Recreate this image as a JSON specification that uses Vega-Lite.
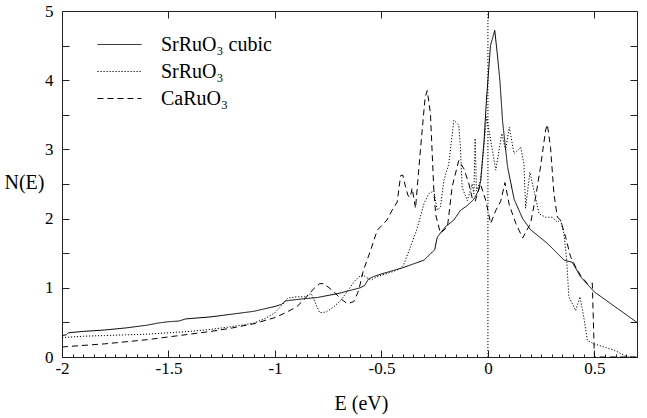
{
  "$schema": "https://vega.github.io/schema/vega-lite/v6.json",
  "width": 575,
  "height": 346,
  "autosize": {"type": "none"},
  "padding": {"left": 62, "top": 11, "right": 10, "bottom": 61},
  "background": "white",
  "config": {
    "view": {"stroke": "#222", "strokeWidth": 1},
    "font": "Liberation Serif, Times New Roman, serif",
    "text": {"font": "Liberation Serif, Times New Roman, serif"},
    "legend": {"labelFont": "Liberation Serif, Times New Roman, serif"},
    "axis": {"labelFont": "Liberation Serif, Times New Roman, serif", "titleFont": "Liberation Serif, Times New Roman, serif", "labelColor": "black", "titleColor": "black", "tickColor": "#222", "domain": false, "grid": false, "titleFontWeight": "normal"}
  },
  "datasets": {
    "dos": [
      {"s": "SrRuO₃ cubic", "E": -2.0, "N": 0.31},
      {"s": "SrRuO₃ cubic", "E": -1.98, "N": 0.32},
      {"s": "SrRuO₃ cubic", "E": -1.97, "N": 0.35},
      {"s": "SrRuO₃ cubic", "E": -1.9, "N": 0.37},
      {"s": "SrRuO₃ cubic", "E": -1.8, "N": 0.39},
      {"s": "SrRuO₃ cubic", "E": -1.7, "N": 0.42},
      {"s": "SrRuO₃ cubic", "E": -1.6, "N": 0.46},
      {"s": "SrRuO₃ cubic", "E": -1.55, "N": 0.49},
      {"s": "SrRuO₃ cubic", "E": -1.5, "N": 0.51},
      {"s": "SrRuO₃ cubic", "E": -1.45, "N": 0.52},
      {"s": "SrRuO₃ cubic", "E": -1.42, "N": 0.55},
      {"s": "SrRuO₃ cubic", "E": -1.3, "N": 0.58},
      {"s": "SrRuO₃ cubic", "E": -1.2, "N": 0.62},
      {"s": "SrRuO₃ cubic", "E": -1.1, "N": 0.66},
      {"s": "SrRuO₃ cubic", "E": -1.0, "N": 0.73},
      {"s": "SrRuO₃ cubic", "E": -0.97, "N": 0.76},
      {"s": "SrRuO₃ cubic", "E": -0.95, "N": 0.81},
      {"s": "SrRuO₃ cubic", "E": -0.9, "N": 0.83},
      {"s": "SrRuO₃ cubic", "E": -0.8, "N": 0.86},
      {"s": "SrRuO₃ cubic", "E": -0.7, "N": 0.92},
      {"s": "SrRuO₃ cubic", "E": -0.6, "N": 1.0},
      {"s": "SrRuO₃ cubic", "E": -0.58, "N": 1.03},
      {"s": "SrRuO₃ cubic", "E": -0.56, "N": 1.13},
      {"s": "SrRuO₃ cubic", "E": -0.53, "N": 1.17},
      {"s": "SrRuO₃ cubic", "E": -0.5, "N": 1.2},
      {"s": "SrRuO₃ cubic", "E": -0.4, "N": 1.29},
      {"s": "SrRuO₃ cubic", "E": -0.3, "N": 1.4},
      {"s": "SrRuO₃ cubic", "E": -0.27, "N": 1.49},
      {"s": "SrRuO₃ cubic", "E": -0.25, "N": 1.55},
      {"s": "SrRuO₃ cubic", "E": -0.238, "N": 1.73},
      {"s": "SrRuO₃ cubic", "E": -0.223, "N": 1.79},
      {"s": "SrRuO₃ cubic", "E": -0.2, "N": 1.88},
      {"s": "SrRuO₃ cubic", "E": -0.16, "N": 1.98},
      {"s": "SrRuO₃ cubic", "E": -0.129, "N": 2.12},
      {"s": "SrRuO₃ cubic", "E": -0.1, "N": 2.18},
      {"s": "SrRuO₃ cubic", "E": -0.066, "N": 2.28},
      {"s": "SrRuO₃ cubic", "E": -0.045, "N": 2.4},
      {"s": "SrRuO₃ cubic", "E": -0.034, "N": 2.55},
      {"s": "SrRuO₃ cubic", "E": -0.018, "N": 3.13},
      {"s": "SrRuO₃ cubic", "E": -0.007, "N": 3.71},
      {"s": "SrRuO₃ cubic", "E": 0.012, "N": 4.5},
      {"s": "SrRuO₃ cubic", "E": 0.032, "N": 4.72},
      {"s": "SrRuO₃ cubic", "E": 0.045, "N": 4.35},
      {"s": "SrRuO₃ cubic", "E": 0.056, "N": 4.0},
      {"s": "SrRuO₃ cubic", "E": 0.069, "N": 3.4},
      {"s": "SrRuO₃ cubic", "E": 0.092, "N": 2.75},
      {"s": "SrRuO₃ cubic", "E": 0.123, "N": 2.28},
      {"s": "SrRuO₃ cubic", "E": 0.163, "N": 2.0},
      {"s": "SrRuO₃ cubic", "E": 0.2, "N": 1.84},
      {"s": "SrRuO₃ cubic", "E": 0.28, "N": 1.64},
      {"s": "SrRuO₃ cubic", "E": 0.357, "N": 1.4},
      {"s": "SrRuO₃ cubic", "E": 0.396, "N": 1.37},
      {"s": "SrRuO₃ cubic", "E": 0.435, "N": 1.16},
      {"s": "SrRuO₃ cubic", "E": 0.5, "N": 0.94},
      {"s": "SrRuO₃ cubic", "E": 0.6, "N": 0.72},
      {"s": "SrRuO₃ cubic", "E": 0.7, "N": 0.5},

      {"s": "SrRuO₃", "E": -2.0, "N": 0.28},
      {"s": "SrRuO₃", "E": -1.9, "N": 0.3},
      {"s": "SrRuO₃", "E": -1.8, "N": 0.31},
      {"s": "SrRuO₃", "E": -1.7, "N": 0.32},
      {"s": "SrRuO₃", "E": -1.6, "N": 0.33},
      {"s": "SrRuO₃", "E": -1.5, "N": 0.35},
      {"s": "SrRuO₃", "E": -1.4, "N": 0.37},
      {"s": "SrRuO₃", "E": -1.3, "N": 0.4},
      {"s": "SrRuO₃", "E": -1.2, "N": 0.44},
      {"s": "SrRuO₃", "E": -1.1, "N": 0.49},
      {"s": "SrRuO₃", "E": -1.05, "N": 0.55},
      {"s": "SrRuO₃", "E": -1.0, "N": 0.64},
      {"s": "SrRuO₃", "E": -0.97, "N": 0.74},
      {"s": "SrRuO₃", "E": -0.94, "N": 0.85},
      {"s": "SrRuO₃", "E": -0.9, "N": 0.87},
      {"s": "SrRuO₃", "E": -0.86, "N": 0.87},
      {"s": "SrRuO₃", "E": -0.83, "N": 0.92},
      {"s": "SrRuO₃", "E": -0.81, "N": 0.78},
      {"s": "SrRuO₃", "E": -0.79, "N": 0.64},
      {"s": "SrRuO₃", "E": -0.76, "N": 0.65},
      {"s": "SrRuO₃", "E": -0.73, "N": 0.71},
      {"s": "SrRuO₃", "E": -0.69, "N": 0.82},
      {"s": "SrRuO₃", "E": -0.66, "N": 0.95},
      {"s": "SrRuO₃", "E": -0.62, "N": 1.12},
      {"s": "SrRuO₃", "E": -0.6, "N": 1.17},
      {"s": "SrRuO₃", "E": -0.585, "N": 1.18},
      {"s": "SrRuO₃", "E": -0.55, "N": 1.11},
      {"s": "SrRuO₃", "E": -0.52, "N": 1.16},
      {"s": "SrRuO₃", "E": -0.48, "N": 1.2},
      {"s": "SrRuO₃", "E": -0.44, "N": 1.24},
      {"s": "SrRuO₃", "E": -0.41, "N": 1.28},
      {"s": "SrRuO₃", "E": -0.395, "N": 1.34},
      {"s": "SrRuO₃", "E": -0.364, "N": 1.59},
      {"s": "SrRuO₃", "E": -0.333, "N": 1.85},
      {"s": "SrRuO₃", "E": -0.3, "N": 2.22},
      {"s": "SrRuO₃", "E": -0.278, "N": 2.36},
      {"s": "SrRuO₃", "E": -0.254, "N": 2.4},
      {"s": "SrRuO₃", "E": -0.238, "N": 2.12},
      {"s": "SrRuO₃", "E": -0.223, "N": 2.17},
      {"s": "SrRuO₃", "E": -0.207, "N": 2.55},
      {"s": "SrRuO₃", "E": -0.184, "N": 2.79},
      {"s": "SrRuO₃", "E": -0.16, "N": 3.42},
      {"s": "SrRuO₃", "E": -0.137, "N": 3.35},
      {"s": "SrRuO₃", "E": -0.129, "N": 3.03},
      {"s": "SrRuO₃", "E": -0.121, "N": 2.45},
      {"s": "SrRuO₃", "E": -0.097, "N": 2.26},
      {"s": "SrRuO₃", "E": -0.082, "N": 2.41},
      {"s": "SrRuO₃", "E": -0.074, "N": 2.5},
      {"s": "SrRuO₃", "E": -0.066, "N": 2.36},
      {"s": "SrRuO₃", "E": -0.06, "N": 3.16},
      {"s": "SrRuO₃", "E": -0.054, "N": 2.4},
      {"s": "SrRuO₃", "E": -0.034, "N": 2.55},
      {"s": "SrRuO₃", "E": -0.006, "N": 3.47},
      {"s": "SrRuO₃", "E": 0.037, "N": 2.7},
      {"s": "SrRuO₃", "E": 0.065, "N": 3.23},
      {"s": "SrRuO₃", "E": 0.083, "N": 2.99},
      {"s": "SrRuO₃", "E": 0.1, "N": 3.32},
      {"s": "SrRuO₃", "E": 0.123, "N": 2.94},
      {"s": "SrRuO₃", "E": 0.154, "N": 3.03},
      {"s": "SrRuO₃", "E": 0.169, "N": 2.79},
      {"s": "SrRuO₃", "E": 0.177, "N": 2.15},
      {"s": "SrRuO₃", "E": 0.197, "N": 2.67},
      {"s": "SrRuO₃", "E": 0.216, "N": 2.41},
      {"s": "SrRuO₃", "E": 0.24, "N": 2.07},
      {"s": "SrRuO₃", "E": 0.271, "N": 2.02},
      {"s": "SrRuO₃", "E": 0.302, "N": 2.02},
      {"s": "SrRuO₃", "E": 0.326, "N": 1.95},
      {"s": "SrRuO₃", "E": 0.341, "N": 1.98},
      {"s": "SrRuO₃", "E": 0.357, "N": 1.78},
      {"s": "SrRuO₃", "E": 0.37, "N": 1.4},
      {"s": "SrRuO₃", "E": 0.38, "N": 0.87},
      {"s": "SrRuO₃", "E": 0.412, "N": 0.67},
      {"s": "SrRuO₃", "E": 0.432, "N": 0.87},
      {"s": "SrRuO₃", "E": 0.45, "N": 0.58},
      {"s": "SrRuO₃", "E": 0.467, "N": 0.24},
      {"s": "SrRuO₃", "E": 0.498, "N": 0.19},
      {"s": "SrRuO₃", "E": 0.55, "N": 0.14},
      {"s": "SrRuO₃", "E": 0.592, "N": 0.1},
      {"s": "SrRuO₃", "E": 0.63, "N": 0.04},
      {"s": "SrRuO₃", "E": 0.655, "N": 0.0},
      {"s": "SrRuO₃", "E": 0.7, "N": 0.0},

      {"s": "CaRuO₃", "E": -2.0, "N": 0.145},
      {"s": "CaRuO₃", "E": -1.8, "N": 0.19},
      {"s": "CaRuO₃", "E": -1.6, "N": 0.25},
      {"s": "CaRuO₃", "E": -1.5, "N": 0.29},
      {"s": "CaRuO₃", "E": -1.4, "N": 0.33},
      {"s": "CaRuO₃", "E": -1.3, "N": 0.37},
      {"s": "CaRuO₃", "E": -1.2, "N": 0.42},
      {"s": "CaRuO₃", "E": -1.1, "N": 0.48},
      {"s": "CaRuO₃", "E": -1.0, "N": 0.57},
      {"s": "CaRuO₃", "E": -0.95, "N": 0.64},
      {"s": "CaRuO₃", "E": -0.9, "N": 0.72},
      {"s": "CaRuO₃", "E": -0.86, "N": 0.84},
      {"s": "CaRuO₃", "E": -0.82, "N": 0.98},
      {"s": "CaRuO₃", "E": -0.79, "N": 1.06},
      {"s": "CaRuO₃", "E": -0.77, "N": 1.06},
      {"s": "CaRuO₃", "E": -0.73, "N": 0.96},
      {"s": "CaRuO₃", "E": -0.69, "N": 0.84},
      {"s": "CaRuO₃", "E": -0.66, "N": 0.77},
      {"s": "CaRuO₃", "E": -0.63, "N": 0.8},
      {"s": "CaRuO₃", "E": -0.607, "N": 0.96},
      {"s": "CaRuO₃", "E": -0.585, "N": 1.25},
      {"s": "CaRuO₃", "E": -0.55, "N": 1.55},
      {"s": "CaRuO₃", "E": -0.52, "N": 1.83},
      {"s": "CaRuO₃", "E": -0.474, "N": 1.98},
      {"s": "CaRuO₃", "E": -0.45, "N": 2.12},
      {"s": "CaRuO₃", "E": -0.426, "N": 2.24},
      {"s": "CaRuO₃", "E": -0.41, "N": 2.62},
      {"s": "CaRuO₃", "E": -0.4, "N": 2.63},
      {"s": "CaRuO₃", "E": -0.387, "N": 2.46},
      {"s": "CaRuO₃", "E": -0.375, "N": 2.33},
      {"s": "CaRuO₃", "E": -0.364, "N": 2.31},
      {"s": "CaRuO₃", "E": -0.356, "N": 2.44},
      {"s": "CaRuO₃", "E": -0.34, "N": 2.15},
      {"s": "CaRuO₃", "E": -0.317, "N": 2.99},
      {"s": "CaRuO₃", "E": -0.295, "N": 3.75},
      {"s": "CaRuO₃", "E": -0.285, "N": 3.85},
      {"s": "CaRuO₃", "E": -0.27, "N": 3.52},
      {"s": "CaRuO₃", "E": -0.254, "N": 2.41},
      {"s": "CaRuO₃", "E": -0.245, "N": 2.05},
      {"s": "CaRuO₃", "E": -0.223, "N": 1.79},
      {"s": "CaRuO₃", "E": -0.19, "N": 1.88},
      {"s": "CaRuO₃", "E": -0.168, "N": 2.46},
      {"s": "CaRuO₃", "E": -0.137, "N": 2.84},
      {"s": "CaRuO₃", "E": -0.113, "N": 2.72},
      {"s": "CaRuO₃", "E": -0.09, "N": 2.51},
      {"s": "CaRuO₃", "E": -0.074, "N": 2.3},
      {"s": "CaRuO₃", "E": -0.06, "N": 2.25},
      {"s": "CaRuO₃", "E": -0.035, "N": 2.5},
      {"s": "CaRuO₃", "E": -0.01, "N": 2.26},
      {"s": "CaRuO₃", "E": 0.013, "N": 1.93},
      {"s": "CaRuO₃", "E": 0.037, "N": 2.12},
      {"s": "CaRuO₃", "E": 0.06, "N": 2.25},
      {"s": "CaRuO₃", "E": 0.08, "N": 2.52},
      {"s": "CaRuO₃", "E": 0.1, "N": 2.2},
      {"s": "CaRuO₃", "E": 0.131, "N": 1.93},
      {"s": "CaRuO₃", "E": 0.163, "N": 1.72},
      {"s": "CaRuO₃", "E": 0.2, "N": 1.93},
      {"s": "CaRuO₃", "E": 0.224, "N": 2.31},
      {"s": "CaRuO₃", "E": 0.247, "N": 2.75},
      {"s": "CaRuO₃", "E": 0.271, "N": 3.28},
      {"s": "CaRuO₃", "E": 0.279, "N": 3.36},
      {"s": "CaRuO₃", "E": 0.294, "N": 3.03},
      {"s": "CaRuO₃", "E": 0.31, "N": 2.36},
      {"s": "CaRuO₃", "E": 0.326, "N": 2.02},
      {"s": "CaRuO₃", "E": 0.341, "N": 1.98},
      {"s": "CaRuO₃", "E": 0.365, "N": 1.73},
      {"s": "CaRuO₃", "E": 0.388, "N": 1.45},
      {"s": "CaRuO₃", "E": 0.412, "N": 1.3},
      {"s": "CaRuO₃", "E": 0.435, "N": 1.18},
      {"s": "CaRuO₃", "E": 0.467, "N": 1.06},
      {"s": "CaRuO₃", "E": 0.49, "N": 1.07},
      {"s": "CaRuO₃", "E": 0.5, "N": 0.0},
      {"s": "CaRuO₃", "E": 0.7, "N": 0.0}
    ],
    "fermi": [{"E": 0}]
  },
  "resolve": {"axis": {"x": "independent", "y": "independent"}},
  "layer": [
    {
      "data": {"name": "dos"},
      "mark": {"type": "line", "color": "black", "strokeWidth": 1, "interpolate": "linear"},
      "encoding": {
        "x": {
          "field": "E", "type": "quantitative",
          "scale": {"domain": [-2, 0.7], "nice": false, "zero": false},
          "axis": {
            "orient": "bottom",
            "title": "E (eV)",
            "titleFontSize": 20,
            "titleX": 299,
            "titleY": 52,
            "titleAnchor": "middle",
            "titleAlign": "center",
            "titleBaseline": "alphabetic",
            "values": [-2, -1.95, -1.9, -1.85, -1.8, -1.75, -1.7, -1.65, -1.6, -1.55, -1.5, -1.45, -1.4, -1.35, -1.3, -1.25, -1.2, -1.15, -1.1, -1.05, -1, -0.95, -0.9, -0.85, -0.8, -0.75, -0.7, -0.65, -0.6, -0.55, -0.5, -0.45, -0.4, -0.35, -0.3, -0.25, -0.2, -0.15, -0.1, -0.05, 0, 0.05, 0.1, 0.15, 0.2, 0.25, 0.3, 0.35, 0.4, 0.45, 0.5, 0.55, 0.6, 0.65, 0.7],
            "labelExpr": "abs(datum.value*2 - round(datum.value*2)) < 0.001 && datum.value < 0.69 ? '' + datum.value : ''",
            "labelFontSize": 17,
            "labelPadding": 10,
            "labelFlush": false,
            "labelOverlap": false,
            "tickSize": {"condition": {"test": "abs(datum.value*2 - round(datum.value*2)) < 0.001", "value": -7}, "value": -3},
            "tickColor": "#222"
          }
        },
        "y": {
          "field": "N", "type": "quantitative",
          "scale": {"domain": [0, 5], "nice": false},
          "axis": {
            "orient": "left",
            "title": "N(E)",
            "titleFontSize": 20,
            "titleAngle": 0,
            "titleX": -38,
            "titleY": 171,
            "titleAlign": "center",
            "titleBaseline": "middle",
            "values": [0, 0.5, 1, 1.5, 2, 2.5, 3, 3.5, 4, 4.5, 5],
            "labelExpr": "datum.value % 1 == 0 ? '' + datum.value : ''",
            "labelFontSize": 17,
            "labelPadding": 16,
            "labelFlush": false,
            "labelOverlap": false,
            "tickSize": -7
          }
        },
        "strokeDash": {
          "field": "s", "type": "nominal",
          "scale": {"domain": ["SrRuO₃ cubic", "SrRuO₃", "CaRuO₃"], "range": [[1, 0], [1.2, 1.8], [6, 4]]},
          "legend": {
            "title": null,
            "orient": "none",
            "legendX": 35,
            "legendY": 20,
            "padding": 0,
            "symbolType": "stroke",
            "symbolSize": 1936,
            "symbolStrokeWidth": 1,
            "symbolStrokeColor": "black",
            "clipHeight": 27,
            "rowPadding": 0,
            "labelFont": "Liberation Serif, Times New Roman, serif",
            "labelFontSize": 20,
            "labelColor": "black",
            "labelOffset": 19,
            "labelLimit": 300
          }
        }
      }
    },
    {
      "data": {"name": "fermi"},
      "mark": {"type": "rule", "color": "black", "strokeWidth": 1, "strokeDash": [1.2, 1.8]},
      "encoding": {
        "x": {"field": "E", "type": "quantitative", "axis": null}
      }
    },
    {
      "data": {"name": "dos"},
      "mark": {"type": "line", "opacity": 0},
      "encoding": {
        "x": {
          "field": "E", "type": "quantitative",
          "axis": {"orient": "top", "title": null, "labels": false, "values": [-2, -1.5, -1, -0.5, 0, 0.5], "tickSize": -7}
        },
        "y": {
          "field": "N", "type": "quantitative",
          "axis": {"orient": "right", "title": null, "labels": false, "values": [0, 0.5, 1, 1.5, 2, 2.5, 3, 3.5, 4, 4.5, 5], "tickSize": -7}
        },
        "detail": {"field": "s", "type": "nominal"}
      }
    }
  ]
}
